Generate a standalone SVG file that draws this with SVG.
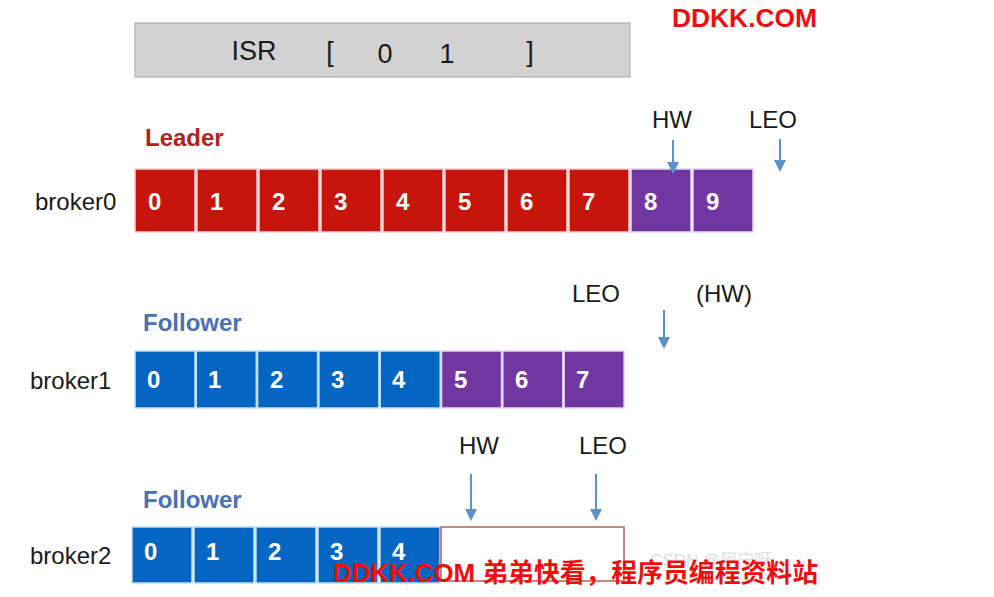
<svg xmlns="http://www.w3.org/2000/svg" width="994" height="597" viewBox="0 0 994 597">
<style>
.lbl{font-family:"Liberation Sans",Arial,sans-serif;font-size:24px;fill:#1a1a1a}
.big{font-size:27px}
.num{font-family:"Liberation Sans",Arial,sans-serif;font-size:24px;font-weight:bold;fill:#fff}
.red{fill:#c8150b;stroke:#f0d0d0;stroke-width:1.5}
.pur{fill:#7236a2;stroke:#e6d8f0;stroke-width:1.5}
.blu{fill:#0466c2;stroke:#bfe0f5;stroke-width:1.5}
.role{font-family:"Liberation Sans",Arial,sans-serif;font-size:24px;font-weight:bold}
.arr{stroke:#5b93c9;stroke-width:2;fill:none}
.wm{font-family:"Liberation Sans","Noto Sans CJK SC",sans-serif;font-weight:bold;fill:#f20d0d;font-size:26px}
</style>
<defs>
<marker id="ah2" markerWidth="12" markerHeight="12" refX="10" refY="6" orient="auto" markerUnits="userSpaceOnUse">
<path d="M0,0 L12,6 L0,12 Z" fill="#5b93c9"/>
</marker>
</defs>
<rect width="994" height="597" fill="#fff"/>

<g id="isr">
<rect x="135" y="23" width="495" height="54" fill="#d2d2d2" stroke="#bdbdbd" stroke-width="1.5"/>
<text x="254" y="60" class="lbl big" text-anchor="middle">ISR</text>
<text x="330" y="61" class="lbl big" text-anchor="middle">[</text>
<text x="385" y="63" class="lbl big" text-anchor="middle">0</text>
<text x="447" y="63" class="lbl big" text-anchor="middle">1</text>
<text x="530" y="61" class="lbl big" text-anchor="middle">]</text>
</g>

<text x="672" y="27" class="wm" textLength="145" lengthAdjust="spacingAndGlyphs">DDKK.COM</text>

<g id="broker0">
<text x="145" y="146" class="role" fill="#b0231d">Leader</text>
<text x="35" y="210" class="lbl">broker0</text>
<rect class="red" x="135" y="169" width="60" height="63"/>
<rect class="red" x="197" y="169" width="60" height="63"/>
<rect class="red" x="259" y="169" width="60" height="63"/>
<rect class="red" x="321" y="169" width="60" height="63"/>
<rect class="red" x="383" y="169" width="60" height="63"/>
<rect class="red" x="445" y="169" width="60" height="63"/>
<rect class="red" x="507" y="169" width="60" height="63"/>
<rect class="red" x="569" y="169" width="60" height="63"/>
<rect class="pur" x="631" y="169" width="60" height="63"/>
<rect class="pur" x="693" y="169" width="60" height="63"/>
<text class="num" x="148" y="210">0</text>
<text class="num" x="210" y="210">1</text>
<text class="num" x="272" y="210">2</text>
<text class="num" x="334" y="210">3</text>
<text class="num" x="396" y="210">4</text>
<text class="num" x="458" y="210">5</text>
<text class="num" x="520" y="210">6</text>
<text class="num" x="582" y="210">7</text>
<text class="num" x="644" y="210">8</text>
<text class="num" x="706" y="210">9</text>
<text x="672" y="128" class="lbl" text-anchor="middle">HW</text>
<text x="773" y="128" class="lbl" text-anchor="middle">LEO</text>
</g>

<g id="broker1">
<text x="143" y="331" class="role" fill="#4a70b5">Follower</text>
<text x="30" y="389" class="lbl">broker1</text>
<rect class="blu" x="135" y="351" width="60" height="57"/>
<rect class="blu" x="196.3" y="351" width="60" height="57"/>
<rect class="blu" x="257.6" y="351" width="60" height="57"/>
<rect class="blu" x="318.9" y="351" width="60" height="57"/>
<rect class="blu" x="380.2" y="351" width="60" height="57"/>
<rect class="pur" x="441.5" y="351" width="60" height="57"/>
<rect class="pur" x="502.8" y="351" width="60" height="57"/>
<rect class="pur" x="564.1" y="351" width="60" height="57"/>
<text class="num" x="147" y="388">0</text>
<text class="num" x="208" y="388">1</text>
<text class="num" x="270" y="388">2</text>
<text class="num" x="331" y="388">3</text>
<text class="num" x="392" y="388">4</text>
<text class="num" x="454" y="388">5</text>
<text class="num" x="515" y="388">6</text>
<text class="num" x="576" y="388">7</text>
<text x="596" y="302" class="lbl" text-anchor="middle">LEO</text>
<text x="724" y="302" class="lbl" text-anchor="middle">(HW)</text>
</g>

<g id="broker2">
<text x="143" y="508" class="role" fill="#4a70b5">Follower</text>
<text x="30" y="564" class="lbl">broker2</text>
<rect class="blu" x="132" y="527" width="60" height="56"/>
<rect class="blu" x="194" y="527" width="60" height="56"/>
<rect class="blu" x="256" y="527" width="60" height="56"/>
<rect class="blu" x="318" y="527" width="60" height="56"/>
<rect class="blu" x="380" y="527" width="60" height="56"/>
<rect x="441" y="527" width="183" height="54" fill="#fff" stroke="#b5605a" stroke-width="1.5"/>
<text class="num" x="144" y="560">0</text>
<text class="num" x="206" y="560">1</text>
<text class="num" x="268" y="560">2</text>
<text class="num" x="330" y="560">3</text>
<text class="num" x="392" y="560">4</text>
<text x="479" y="454" class="lbl" text-anchor="middle">HW</text>
<text x="603" y="454" class="lbl" text-anchor="middle">LEO</text>
<text x="650" y="566" font-family="Liberation Sans,Noto Sans CJK SC,sans-serif" font-size="17" fill="#dedede">CSDN @阿宁呀</text>
</g>

<g id="connectors">
<line class="arr" x1="673" y1="140" x2="673" y2="172" marker-end="url(#ah2)"/>
<line class="arr" x1="780" y1="139" x2="780" y2="170" marker-end="url(#ah2)"/>
<line class="arr" x1="664" y1="310" x2="664" y2="347" marker-end="url(#ah2)"/>
<line class="arr" x1="471" y1="474" x2="471" y2="519" marker-end="url(#ah2)"/>
<line class="arr" x1="596" y1="474" x2="596" y2="519" marker-end="url(#ah2)"/>
</g>

<text x="333" y="582" class="wm" textLength="485" lengthAdjust="spacingAndGlyphs">DDKK.COM 弟弟快看，程序员编程资料站</text>
</svg>
